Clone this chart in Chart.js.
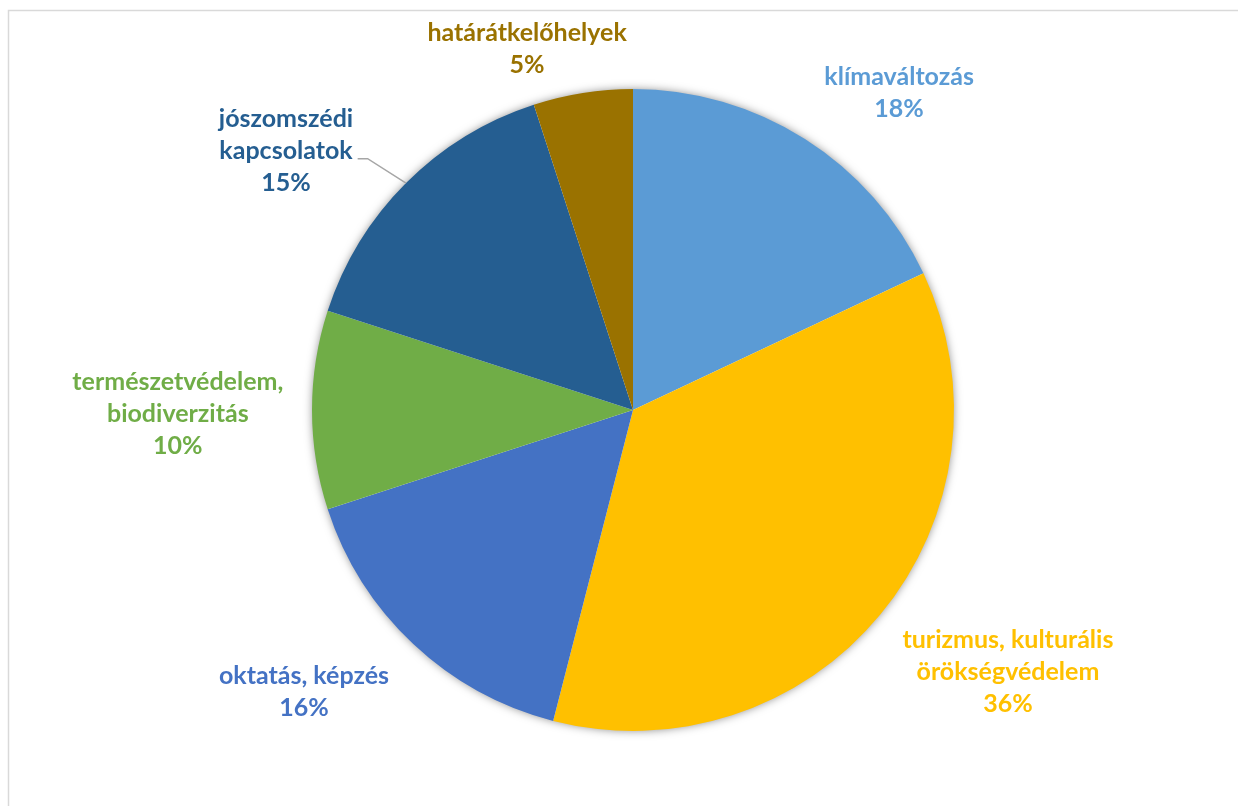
<!DOCTYPE html>
<html>
<head>
<meta charset="utf-8">
<script src="https://cdn.jsdelivr.net/npm/chart.js@4.4.1/dist/chart.umd.min.js"></script>
<style>
  html, body { margin: 0; padding: 0; background: #ffffff; }
  #wrap { width: 1238px; height: 806px; position: relative; }
</style>
</head>
<body>
<div id="wrap"><canvas id="c" width="1238" height="806"></canvas></div>
<script>
// ---- data ----
const categories = [
  'klímaváltozás',
  'turizmus, kulturális örökségvédelem',
  'oktatás, képzés',
  'természetvédelem, biodiverzitás',
  'jószomszédi kapcsolatok',
  'határátkelőhelyek'
];
const values = [18, 36, 16, 10, 15, 5];
const labelLines = [
  ['klímaváltozás'],
  ['turizmus, kulturális', 'örökségvédelem'],
  ['oktatás, képzés'],
  ['természetvédelem,', 'biodiverzitás'],
  ['jószomszédi', 'kapcsolatok'],
  ['határátkelőhelyek']
];
const sliceColors = ['#5B9BD5', '#FFC000', '#4472C4', '#70AD47', '#255E91', '#9A7200'];

// label block centres relative to the pie centre, in units of the radius
const labelPlacement = [
  [0.829, -0.989],
  [1.168, 0.816],
  [-1.025, 0.877],
  [-1.418, 0.011],
  [-1.081, -0.808],
  [-0.330, -1.126]
];
const leaderFor = [false, false, false, false, true, false];

const FONT = 'bold 25px Lato';
const LINE_H = 32;

const frame = {
  id: 'frame',
  beforeDraw(chart) {
    const ctx = chart.ctx;
    ctx.save();
    ctx.strokeStyle = '#D9D9D9';
    ctx.lineWidth = 1.5;
    ctx.strokeRect(8.5, 10.5, 1250, 810);
    ctx.restore();
  }
};

const shadow = {
  id: 'shadow',
  beforeDatasetsDraw(chart) {
    const arc = chart.getDatasetMeta(0).data[0];
    if (!arc) return;
    const ctx = chart.ctx;
    ctx.save();
    ctx.shadowColor = 'rgba(0,0,0,0.5)';
    ctx.shadowBlur = 10;
    ctx.shadowOffsetX = 0;
    ctx.shadowOffsetY = 0;
    ctx.fillStyle = '#ffffff';
    ctx.beginPath();
    ctx.arc(arc.x, arc.y, arc.outerRadius - 1, 0, Math.PI * 2);
    ctx.fill();
    ctx.restore();
  }
};

const labels = {
  id: 'labels',
  afterDatasetsDraw(chart) {
    const meta = chart.getDatasetMeta(0);
    const ctx = chart.ctx;
    const total = values.reduce((a, b) => a + b, 0);
    ctx.save();
    ctx.font = FONT;
    ctx.textAlign = 'center';
    ctx.textBaseline = 'middle';
    meta.data.forEach((arc, i) => {
      const r = arc.outerRadius;
      const lines = labelLines[i].concat([Math.round(values[i] / total * 100) + '%']);
      const cx = arc.x + labelPlacement[i][0] * r;
      const cy = arc.y + labelPlacement[i][1] * r;
      const top = cy - (lines.length - 1) * LINE_H / 2;
      ctx.fillStyle = sliceColors[i];
      lines.forEach((ln, k) => ctx.fillText(ln, cx, top + k * LINE_H));
      if (leaderFor[i]) {
        const mid = (arc.startAngle + arc.endAngle) / 2;
        const ex = arc.x + Math.cos(mid) * r;
        const ey = arc.y + Math.sin(mid) * r;
        const w = ctx.measureText(labelLines[i][1]).width;
        const sx = cx + w / 2 + 5;
        const sy = top + 1 * LINE_H + 8;
        ctx.strokeStyle = '#A6A6A6';
        ctx.lineWidth = 1.5;
        ctx.beginPath();
        ctx.moveTo(sx, sy);
        ctx.lineTo(sx + 10, sy);
        ctx.lineTo(ex, ey);
        ctx.stroke();
      }
    });
    ctx.restore();
  }
};

new Chart(document.getElementById('c'), {
  type: 'pie',
  data: {
    labels: categories,
    datasets: [{
      data: values,
      backgroundColor: sliceColors,
      borderWidth: 0
    }]
  },
  options: {
    responsive: false,
    animation: false,
    layout: { padding: { left: 312, right: 284, top: 89, bottom: 75 } },
    plugins: {
      legend: { display: false },
      tooltip: { enabled: false }
    }
  },
  plugins: [frame, shadow, labels]
});
</script>
</body>
</html>
